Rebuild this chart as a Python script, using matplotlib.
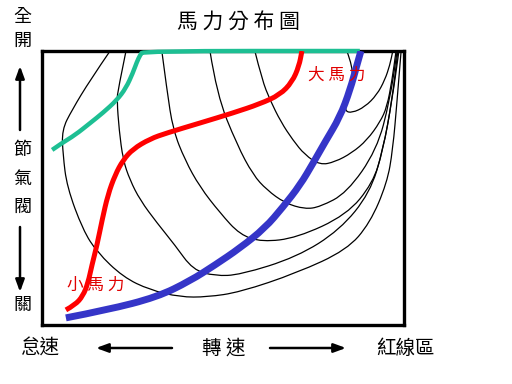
import matplotlib
matplotlib.use("Agg")
import matplotlib.pyplot as plt
from matplotlib.path import Path
from matplotlib.patches import PathPatch, FancyArrowPatch

plt.rcParams['font.family'] = ['Noto Sans CJK TC', 'DejaVu Sans']

# --- data (rpm % on x, throttle opening % on y) ------------------------------
# equal-power contour curves, outermost first
curve_x = [
    [18.8, 13.3, 8.3, 5.5, 5.8, 6.9, 11.3, 15.2, 22.4, 29.8, 38.1, 45.6, 54.7, 70.4, 84.2, 90.6, 95.3, 96.9, 98.1, 99.2],
    [23.2, 21.0, 20.7, 21.3, 22.4, 24.3, 27.1, 31.8, 36.7, 41.7, 47.8, 54.7, 70.4, 82.3, 90.6, 94.2, 96.7, 98.6],
    [33.1, 34.5, 36.2, 39.5, 43.6, 49.2, 54.7, 60.8, 70.4, 84.2, 91.4, 94.2, 96.7, 98.3],
    [46.4, 48.3, 53.9, 58.3, 62.1, 67.1, 72.6, 76.8, 84.2, 92.5, 96.1, 98.1],
    [58.8, 60.8, 63.0, 66.0, 69.3, 72.6, 76.8, 80.9, 85.6, 89.8, 93.4, 95.3, 96.7, 97.8],
    [84.2, 85.9, 85.6, 84.2, 83.7, 85.6, 89.2, 92.5, 94.7, 96.1, 96.9],
]
curve_y = [
    [100, 89.4, 78.5, 71.2, 62.1, 50.4, 34.7, 26.6, 17.5, 12.8, 10.2, 10.2, 12.0, 19.0, 27.4, 37.2, 51.8, 63.9, 82.1, 100],
    [100, 85.8, 82.1, 71.2, 60.2, 52.9, 45.6, 37.2, 29.2, 20.1, 17.9, 18.3, 24.8, 34.7, 48.2, 63.9, 82.1, 100],
    [100, 85.8, 71.2, 60.2, 50.4, 40.9, 32.9, 30.3, 31.8, 40.2, 51.8, 63.9, 82.1, 100],
    [100, 84.0, 65.7, 54.8, 49.3, 44.5, 42.3, 43.1, 48.2, 63.9, 82.1, 100],
    [100, 89.4, 82.1, 74.1, 67.5, 62.1, 58.4, 59.5, 62.8, 67.5, 74.1, 79.6, 89.4, 100],
    [100, 94.2, 86.9, 81.0, 78.1, 77.4, 79.6, 84.0, 89.4, 94.9, 100],
]

# full-throttle line (teal)
full_x = [2.8, 5.5, 9.1, 13.3, 16.8, 20.7, 23.2, 25.1, 26.2, 27.1, 27.9, 87.8]
full_y = [63.9, 66.4, 69.3, 73.7, 77.4, 82.1, 86.5, 92.0, 96.0, 98.5, 100, 100]

# red line: 小馬力 -> 大馬力
red_x = [6.6, 9.1, 11.3, 12.7, 13.8, 15.2, 16.6, 18.2, 20.2, 22.4, 25.1, 29.8, 34.5, 43.6, 52.8, 60.2, 65.7, 69.1, 71.0, 71.8]
red_y = [5.5, 7.3, 10.6, 15.3, 21.9, 29.2, 38.3, 47.5, 54.8, 60.2, 64.2, 67.9, 70.1, 73.7, 77.4, 80.7, 84.0, 88.7, 94.5, 100]

# blue line
blue_x = [6.6, 18.0, 31.8, 40.9, 47.8, 54.7, 61.6, 66.6, 71.3, 74.9, 78.2, 82.3, 85.1, 87.0, 88.1]
blue_y = [2.6, 5.5, 10.2, 16.1, 21.9, 28.1, 35.4, 43.1, 51.1, 59.1, 66.8, 75.9, 85.8, 94.9, 100]

TEAL = '#1dbf93'
RED = '#ff0000'
BLUE = '#3535c8'


# smooth path through the points: quadratic Bezier pieces between midpoints
def smooth_path(xs, ys):
    pts = list(zip(xs, ys))
    verts = [pts[0]]
    codes = [Path.MOVETO]
    for i in range(1, len(pts) - 1):
        mid = ((pts[i][0] + pts[i + 1][0]) / 2, (pts[i][1] + pts[i + 1][1]) / 2)
        verts += [pts[i], mid]
        codes += [Path.CURVE3, Path.CURVE3]
    verts.append(pts[-1])
    codes.append(Path.LINETO)
    return Path(verts, codes)


def draw(ax, xs, ys, **kw):
    ax.add_patch(PathPatch(smooth_path(xs, ys), fill=False, capstyle='butt',
                           joinstyle='round', **kw))


# --- figure ------------------------------------------------------------------
fig = plt.figure(figsize=(5.12, 3.84), dpi=100)
ax = fig.add_axes([42 / 512, 59 / 384, 362 / 512, 274 / 384])
ax.set_xlim(0, 100)
ax.set_ylim(0, 100)
ax.set_xticks([])
ax.set_yticks([])
for sp in ax.spines.values():
    sp.set_linewidth(2.4)
    sp.set_color('k')

for xs, ys in zip(curve_x, curve_y):
    draw(ax, xs, ys, edgecolor='k', lw=0.9, zorder=2)

draw(ax, full_x, full_y, edgecolor=TEAL, lw=3.2, clip_on=False, zorder=4)
draw(ax, red_x, red_y, edgecolor=RED, lw=3.6, zorder=5)
draw(ax, blue_x, blue_y, edgecolor=BLUE, lw=5.0, zorder=6)

ax.text(81.5, 91.0, '大 馬 力', color='#e00000', fontsize=12, ha='center', va='center', zorder=7)
ax.text(14.9, 14.5, '小 馬 力', color='#e00000', fontsize=12, ha='center', va='center', zorder=7)


# --- labels outside the box ----------------------------------------------------
def fx(px):
    return px / 512


def fy(py):
    return 1 - py / 384


fig.text(fx(238), fy(22), '馬 力 分 布 圖', fontsize=15, ha='center', va='center')

for ch, py in [('全', 17), ('開', 41), ('節', 150), ('氣', 179), ('閥', 207), ('關', 305)]:
    fig.text(fx(22), fy(py), ch, fontsize=13, ha='center', va='center')

fig.text(fx(40), fy(348), '怠速', fontsize=14, ha='center', va='center')
fig.text(fx(224), fy(348), '轉 速', fontsize=14, ha='center', va='center')
fig.text(fx(405), fy(348), '紅線區', fontsize=14, ha='center', va='center')

arrow = dict(arrowstyle='-|>,head_length=0.6,head_width=0.22', lw=1.8, color='k',
             shrinkA=0, shrinkB=0)
for (x0, y0), (x1, y1) in [((20, 130), (20, 66)), ((20, 227), (20, 292)),
                           ((172, 348), (96, 348)), ((270, 348), (346, 348))]:
    fig.add_artist(FancyArrowPatch(
        (fx(x0), fy(y0)), (fx(x1), fy(y1)), transform=fig.transFigure,
        mutation_scale=12, **arrow))

fig.savefig('out.png', dpi=100)
